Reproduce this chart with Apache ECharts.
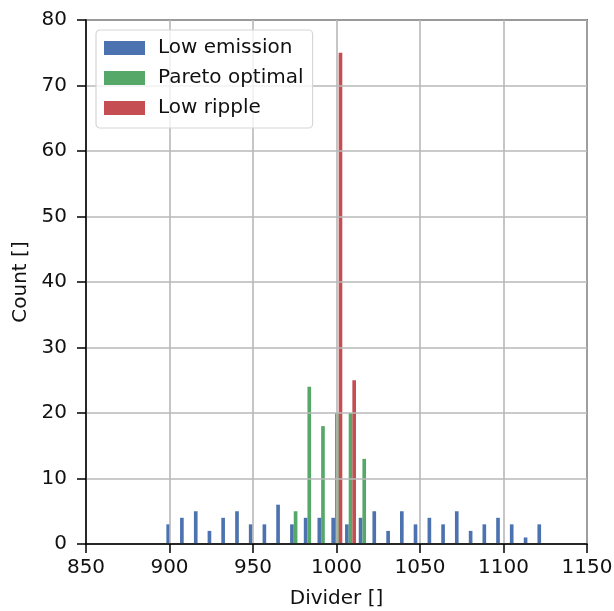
<!DOCTYPE html>
<html>
<head>
<meta charset="utf-8">
<script src="https://cdn.jsdelivr.net/npm/echarts@6/dist/echarts.min.js"></script>
<style>
  html, body { margin: 0; padding: 0; background: #fff; }
  #chart { width: 614px; height: 611px; }
</style>
</head>
<body>
<div id="chart"></div>
<script>
// Histogram bin centres (Divider value)
const binCenters = [
  901.4, 909.6, 917.9, 926.1, 934.3, 942.6, 950.8, 959.0, 967.2, 975.5,
  983.7, 991.9, 1000.2, 1008.4, 1016.6, 1024.8, 1033.1, 1041.3, 1049.5, 1057.8,
  1066.0, 1074.2, 1082.5, 1090.7, 1098.9, 1107.1, 1115.4, 1123.6
];

// Counts per bin for each group
const lowEmission = [3, 4, 5, 2, 4, 5, 3, 3, 6, 3, 4, 4, 4, 3, 4, 5, 2, 5, 3, 4, 3, 5, 2, 3, 4, 3, 1, 3];
const paretoOptimal = [0, 0, 0, 0, 0, 0, 0, 0, 0, 5, 24, 18, 20, 20, 13, 0, 0, 0, 0, 0, 0, 0, 0, 0, 0, 0, 0, 0];
const lowRipple = [0, 0, 0, 0, 0, 0, 0, 0, 0, 0, 0, 0, 75, 25, 0, 0, 0, 0, 0, 0, 0, 0, 0, 0, 0, 0, 0, 0];

const seriesNames = ['Low emission', 'Pareto optimal', 'Low ripple'];
const seriesColors = ['#4C72B0', '#55A868', '#C44E52'];
const xTicks = { min: 850, max: 1150, step: 50 };
const yTicks = { min: 0, max: 80, step: 10 };

// Three groups share each bin, side by side over 80% of the bin width
const binWidth = binCenters[1] - binCenters[0];
const barW = 0.8 * binWidth / 3;

function barData(counts, slot) {
  return binCenters
    .map((c, i) => [c + (slot - 1) * barW, counts[i]])
    .filter(d => d[1] > 0);
}

function renderBar(params, api) {
  const x = api.value(0);
  const y = api.value(1);
  const p0 = api.coord([x - barW / 2, y]);
  const p1 = api.coord([x + barW / 2, 0]);
  return {
    type: 'rect',
    shape: { x: p0[0], y: p0[1], width: p1[0] - p0[0], height: p1[1] - p0[1] },
    style: { fill: api.visual('color') }
  };
}

const font = 'DejaVu Sans';
const textColor = '#111';
const groups = [lowEmission, paretoOptimal, lowRipple];

const chart = echarts.init(document.getElementById('chart'), null, { renderer: 'canvas' });
chart.setOption({
  animation: false,
  textStyle: { fontFamily: font },
  grid: {
    left: 86, top: 20, right: 27, bottom: 67,
    containLabel: false, outerBoundsMode: 'none',
    show: true, borderColor: '#000', borderWidth: 1.5, backgroundColor: 'transparent'
  },
  legend: {
    orient: 'vertical',
    left: 96, top: 30,
    padding: [8, 9, 10, 8],
    itemGap: 10,
    itemWidth: 41, itemHeight: 14,
    icon: 'rect',
    backgroundColor: 'rgba(255,255,255,0.8)',
    borderColor: '#d6d6d6', borderWidth: 1.2, borderRadius: 4,
    textStyle: { fontFamily: font, fontSize: 20, color: textColor, lineHeight: 20, padding: [0, 0, 0, 8] },
    data: seriesNames
  },
  xAxis: {
    type: 'value', z: 3,
    min: xTicks.min, max: xTicks.max, interval: xTicks.step,
    name: 'Divider []', nameLocation: 'middle', nameGap: 45,
    nameTextStyle: { fontFamily: font, fontSize: 20, color: textColor },
    axisLine: { show: true, onZero: false, lineStyle: { color: '#000', width: 1.5 } },
    axisTick: { show: true, inside: false, length: 9, lineStyle: { color: '#000', width: 1.5 } },
    axisLabel: { fontFamily: font, fontSize: 20, color: textColor, margin: 14, formatter: v => String(v) },
    splitLine: { show: true, lineStyle: { color: '#b8b8b8', width: 1.6 } }
  },
  yAxis: {
    type: 'value', z: 3,
    min: yTicks.min, max: yTicks.max, interval: yTicks.step,
    name: 'Count []', nameLocation: 'middle', nameGap: 53, nameRotate: 90,
    nameTextStyle: { fontFamily: font, fontSize: 20, color: textColor },
    axisLine: { show: true, onZero: false, lineStyle: { color: '#000', width: 1.5 } },
    axisTick: { show: true, inside: false, length: 9, lineStyle: { color: '#000', width: 1.5 } },
    axisLabel: { fontFamily: font, fontSize: 20, color: textColor, margin: 19, formatter: v => String(v) },
    splitLine: { show: true, lineStyle: { color: '#b8b8b8', width: 1.6 } }
  },
  series: groups.map((counts, s) => ({
    name: seriesNames[s],
    type: 'custom',
    z: 2,
    color: seriesColors[s],
    itemStyle: { color: seriesColors[s] },
    encode: { x: 0, y: 1 },
    renderItem: renderBar,
    clip: true,
    data: barData(counts, s)
  }))
});
</script>
</body>
</html>
